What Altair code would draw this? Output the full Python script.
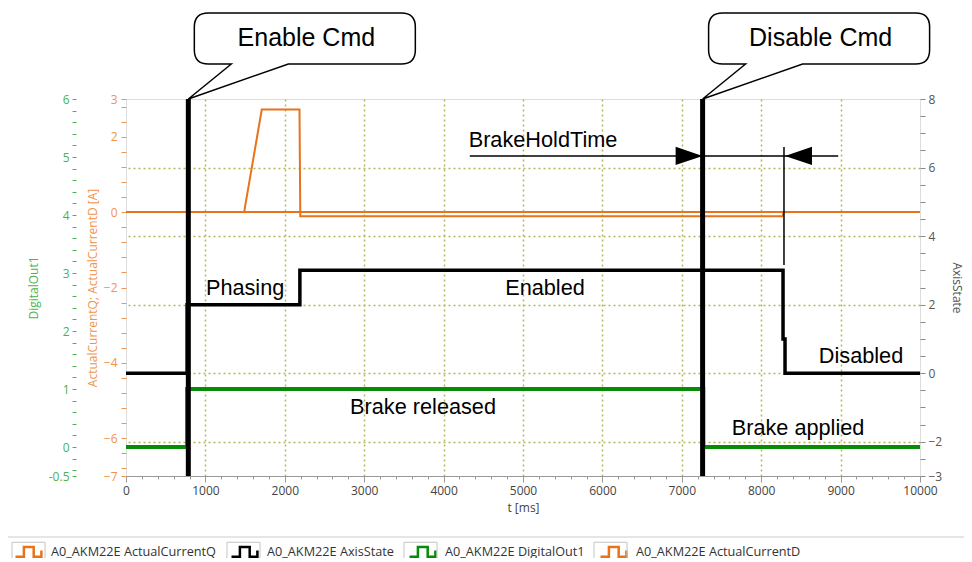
import altair as alt
import pandas as pd

# ---------------- data ----------------
NAME_Q = "A0_AKM22E ActualCurrentQ"
NAME_S = "A0_AKM22E AxisState"
NAME_DO = "A0_AKM22E DigitalOut1"
NAME_D = "A0_AKM22E ActualCurrentD"

q_t = [0, 1490, 1500, 1710, 2185, 2195, 8270, 8280, 10000]
q_v = [0, 0, 0.15, 2.72, 2.72, -0.11, -0.11, 0, 0]
d_t = [0, 10000]
d_v = [0, 0]
state_t = [0, 770, 2190, 8275, 8300, 10000]
state_v = [0, 2, 3, 1, 0, 0]
dout_t = [0, 770, 7270, 10000]
dout_v = [0, 1, 0, 0]

cmd_t = [785, 7262]
cmd_label = ["Enable Cmd", "Disable Cmd"]

ann_text = ["Phasing", "Enabled", "Disabled", "Brake released", "Brake applied", "BrakeHoldTime"]
ann_t = [1500, 5277, 9257, 3741, 8464, 5252]
ann_v = [2.49, 2.49, 0.5, -0.99, -1.6, 6.8]

hold_t = [4330, 8970]
hold_v = 6.34
hold_tip_right = 7262
hold_tip_left = 8300
hold_vline_t = 8287
hold_vline_v = [3.16, 6.6]

# colours
ORANGE = "#e8731a"
GREEN = "#078c07"
BLACK = "#000000"
GREEN_LAB = "#4bb34b"
ORANGE_LAB = "#f0944a"
GRID = "#b5b55a"

series_domain = [NAME_Q, NAME_S, NAME_DO, NAME_D]
series_range = [ORANGE, BLACK, GREEN, ORANGE]
# same labels plus a zero-width char: a second (box) legend that must not merge with the first
box_domain = [n + "\u200b" for n in series_domain]

# tick values
x_ticks = list(range(0, 10001, 200))
green_ticks = [-0.5] + [round(-0.4 + 0.2 * k, 2) for k in range(0, 33)]
orange_ticks = [3] + [round(0.4 * k, 2) for k in range(7, -18, -1)] + [-7]
right_ticks = [round(-3 + 0.5 * k, 2) for k in range(0, 23)]

W, H = 794, 377
FONT = "Open Sans"
ANN_FONT = "Liberation Sans"

xs = alt.Scale(domain=[0, 10000], nice=False, zero=False)
yG = alt.Scale(domain=[-0.5, 6], nice=False, zero=False)
yO = alt.Scale(domain=[-7, 3], nice=False, zero=False)
yR = alt.Scale(domain=[-3, 8], nice=False, zero=False)

x_axis = alt.Axis(
    title="t [ms]",
    values=x_ticks,
    labelExpr="datum.value % 1000 == 0 ? format(datum.value, 'd') : ''",
    labelFlush=False,
    labelOverlap=False,
    labelFont=FONT,
    labelFontSize=12,
    labelColor="#444",
    labelPadding=3,
    tickColor="#999",
    tickSize=alt.ExprRef(expr="datum.value % 1000 == 0 ? 6 : 3"),
    domainColor="#999",
    grid=True,
    gridColor=GRID,
    gridDash=[2, 3],
    gridWidth=1.5,
    gridOpacity=alt.ExprRef(expr="(datum.value % 1000 == 0 && datum.value > 0 && datum.value < 10000) ? 1 : 0"),
    titleFont=FONT,
    titleFontSize=12,
    titleFontWeight="normal",
    titleColor="#444",
    titlePadding=6,
)


def X(field="t"):
    return alt.X(f"{field}:Q", scale=xs, axis=x_axis)


LEG_COMMON = dict(
    title=None,
    orient="none",
    legendX=-112,
    legendY=437,
    direction="horizontal",
    symbolSize=784,
    labelFont=FONT,
    labelFontSize=12.7,
    labelLimit=400,
    labelOffset=6,
    columnPadding=10,
)

legend = alt.Legend(
    symbolType="M-1,0.35 L-0.4,0.35 L-0.4,-0.35 L0.3,-0.35 L0.3,0.35 L0.85,0.35 L0.85,-0.1",
    symbolStrokeWidth=2.5,
    symbolFillColor="transparent",
    labelColor="#333",
    **LEG_COMMON,
)
color_enc = alt.Color(
    "series:N",
    scale=alt.Scale(domain=series_domain, range=series_range),
    legend=legend,
)

BOX_PATH = "M-1.18,-0.62 L1.18,-0.62 L1.18,0.62 L-1.18,0.62 Z"
box_legend = alt.Legend(
    symbolStrokeWidth=1,
    symbolStrokeColor="#c4c4c4",
    symbolFillColor="transparent",
    symbolOpacity=1,
    labelOpacity=0,
    labelColor="#333",
    **LEG_COMMON,
)

# ---------------- data frames ----------------
df_orange = pd.concat([
    pd.DataFrame({"t": q_t, "v": q_v, "series": NAME_Q}),
    pd.DataFrame({"t": d_t, "v": d_v, "series": NAME_D}),
])
df_state = pd.DataFrame({"t": state_t, "v": state_v, "series": NAME_S})
df_dout = pd.DataFrame({"t": dout_t, "v": dout_v, "series": NAME_DO})
df_cmd = pd.DataFrame({"t": cmd_t, "label": cmd_label})
df_ann = pd.DataFrame({"t": ann_t, "v": ann_v, "text": ann_text})
df_hold = pd.DataFrame({"t": [hold_t[0]], "t2": [hold_t[1]], "v": [hold_v]})
df_vline = pd.DataFrame({"t": [hold_vline_t], "v": [hold_vline_v[0]], "v2": [hold_vline_v[1]]})
df_tip_r = pd.DataFrame({"t": [hold_tip_right], "v": [hold_v]})
df_tip_l = pd.DataFrame({"t": [hold_tip_left], "v": [hold_v]})
df_one = pd.DataFrame({"k": [0]})
df_boxes = pd.DataFrame({"series_box": box_domain})

# ---------------- layers ----------------
green_layer = alt.Chart(df_dout).mark_line(strokeWidth=4, interpolate="step-after").encode(
    x=X(),
    y=alt.Y("v:Q", scale=yG, axis=alt.Axis(
        orient="left", offset=50, values=green_ticks,
        labelExpr="datum.value == -0.5 ? '-0.5' : (abs(datum.value % 1) < 0.001 ? format(datum.value, 'd') : '')",
        domain=False, grid=False, tickColor=GREEN_LAB, tickSize=4,
        labelColor=GREEN_LAB, labelFont=FONT, labelFontSize=12, labelPadding=3, labelOverlap=False,
        title="DigitalOut1", titleColor=GREEN_LAB, titleFont=FONT, titleFontSize=12,
        titleFontWeight="normal", titlePadding=8)),
    color=color_enc,
)

orange_layer = alt.Chart(df_orange).mark_line(strokeWidth=2).encode(
    x=X(),
    y=alt.Y("v:Q", scale=yO, axis=alt.Axis(
        orient="left", offset=0, values=orange_ticks,
        labelExpr="indexof([3, 2, 0, -2, -4, -6, -7], datum.value) >= 0 ? format(datum.value, 'd') : ''",
        domain=False, grid=False, tickColor=ORANGE_LAB, tickSize=5,
        labelColor=ORANGE_LAB, labelFont=FONT, labelFontSize=12, labelPadding=4, labelOverlap=False,
        title="ActualCurrentQ; ActualCurrentD [A]", titleColor=ORANGE_LAB, titleFont=FONT,
        titleFontSize=12, titleFontWeight="normal", titlePadding=4)),
    color=color_enc,
)

state_layer = alt.Chart(df_state).mark_line(strokeWidth=3.5, interpolate="step-after").encode(
    x=X(),
    y=alt.Y("v:Q", scale=yR, axis=alt.Axis(
        orient="right", values=right_ticks,
        labelExpr="(datum.value % 2 == 0 || datum.value == -3) ? format(datum.value, 'd') : ''",
        domain=False, tickColor="#888", tickSize=5,
        labelColor="#555", labelFont=FONT, labelFontSize=12, labelPadding=3, labelOverlap=False,
        grid=True, gridColor=GRID, gridDash=[2, 3], gridWidth=1.5,
        gridOpacity=alt.ExprRef(expr="(datum.value % 2 == 0 && datum.value > -3 && datum.value < 8) ? 1 : 0"),
        title="AxisState", titleColor="#555", titleFont=FONT, titleFontSize=12,
        titleFontWeight="normal", titleAngle=90, titlePadding=8)),
    color=color_enc,
)

cmd_bars = alt.Chart(df_cmd).mark_rule(strokeWidth=5, color="black").encode(x=X())

hold_line = alt.Chart(df_hold).mark_rule(strokeWidth=1.5, color="black").encode(
    x=X(), x2="t2:Q", y=alt.Y("v:Q", scale=yR, axis=None))
vline = alt.Chart(df_vline).mark_rule(strokeWidth=1.5, color="black").encode(
    x=X(), y=alt.Y("v:Q", scale=yR, axis=None), y2="v2:Q")
tip_r = alt.Chart(df_tip_r).mark_point(
    shape="M0,0 L-2,-0.67 L-2,0.67 Z", size=729, filled=True, color="black", opacity=1
).encode(x=X(), y=alt.Y("v:Q", scale=yR, axis=None))
tip_l = alt.Chart(df_tip_l).mark_point(
    shape="M0,0 L2,-0.67 L2,0.67 Z", size=729, filled=True, color="black", opacity=1
).encode(x=X(), y=alt.Y("v:Q", scale=yR, axis=None))

ann = alt.Chart(df_ann).mark_text(
    font=ANN_FONT, fontSize=21.7, color="black", align="center", baseline="middle"
).encode(x=X(), y=alt.Y("v:Q", scale=yR, axis=None), text="text:N")

bubble_path = ("M0.43,-0.35 L0,0 L1.0,-0.35 L2.13,-0.35 Q2.27,-0.35 2.27,-0.49 L2.27,-0.72 "
               "Q2.27,-0.86 2.13,-0.86 L0.2,-0.86 Q0.06,-0.86 0.06,-0.72 L0.06,-0.49 "
               "Q0.06,-0.35 0.2,-0.35 Z")
bubbles = alt.Chart(df_cmd).mark_point(
    shape=bubble_path, size=40000, filled=False, fill="white", fillOpacity=1,
    stroke="black", strokeWidth=1.5, opacity=1,
).encode(x=X(), y=alt.value(0))
bubble_text = alt.Chart(df_cmd).mark_text(
    font=ANN_FONT, fontSize=25, color="black", align="center", baseline="middle", dx=118
).encode(x=X(), y=alt.value(-61), text="label:N")

separator = alt.Chart(df_one).mark_rule(color="#cccccc", strokeWidth=1).encode(
    x=alt.value(-118), x2=alt.value(846), y=alt.value(438))

# invisible marks that only produce the light boxes round the legend symbols
legend_boxes = alt.Chart(df_boxes).mark_point(
    filled=False, color="#c4c4c4", strokeWidth=1, opacity=1
).encode(
    x=alt.value(-600), y=alt.value(-600),
    shape=alt.Shape("series_box:N", scale=alt.Scale(domain=box_domain, range=[BOX_PATH] * 4),
                    legend=box_legend),
)

chart = alt.layer(
    orange_layer, green_layer, state_layer, cmd_bars, hold_line, vline, tip_r, tip_l,
    ann, bubbles, bubble_text, separator, legend_boxes,
).resolve_scale(y="independent").properties(
    width=W, height=H,
    autosize=alt.AutoSizeParams(type="none"),
    padding={"left": 118, "top": 91, "right": 44, "bottom": 82},
).configure_view(
    stroke="#999", strokeDash=[1, 1], strokeWidth=1,
).configure(background="white")

chart.save("out.html", embed_options={"renderer": "svg", "actions": False})
